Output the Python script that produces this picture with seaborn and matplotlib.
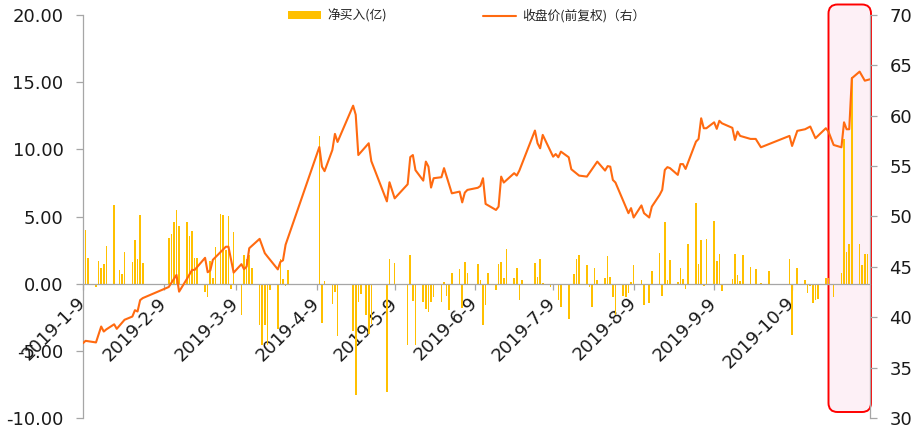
import pandas as pd
import seaborn as sns
import matplotlib.pyplot as plt
import matplotlib.dates as mdates
from matplotlib.patches import FancyBboxPatch, Patch
from matplotlib.lines import Line2D
from matplotlib.ticker import FormatStrFormatter

# net buy (100m), one bar per day
flow_days = [
    "1-9", "1-10", "1-11", "1-14", "1-15", "1-16", "1-17", "1-18", "1-21", "1-23",
    "1-24", "1-25", "1-28", "1-29", "1-30", "1-31", "2-1", "2-11", "2-12", "2-13",
    "2-14", "2-15", "2-18", "2-19", "2-20", "2-21", "2-22", "2-25", "2-26", "2-27",
    "2-28", "3-1", "3-3", "3-4", "3-5", "3-6", "3-7", "3-8", "3-11", "3-12",
    "3-13", "3-14", "3-15", "3-18", "3-19", "3-20", "3-21", "3-22", "3-25", "3-26",
    "3-27", "3-28", "3-29", "4-10", "4-11", "4-12", "4-15", "4-16", "4-17", "4-23",
    "4-24", "4-25", "4-26", "4-28", "4-29", "4-30", "5-6", "5-7", "5-9", "5-14",
    "5-15", "5-16", "5-17", "5-20", "5-21", "5-22", "5-23", "5-24", "5-27", "5-28",
    "5-29", "5-30", "5-31", "6-3", "6-4", "6-5", "6-6", "6-10", "6-11", "6-12",
    "6-13", "6-14", "6-17", "6-18", "6-19", "6-20", "6-21", "6-24", "6-25", "6-26",
    "6-27", "7-2", "7-3", "7-4", "7-5", "7-8", "7-11", "7-12", "7-15", "7-17",
    "7-18", "7-19", "7-22", "7-23", "7-24", "7-25", "7-26", "7-29", "7-30", "7-31",
    "8-1", "8-2", "8-5", "8-6", "8-7", "8-8", "8-9", "8-12", "8-13", "8-14",
    "8-15", "8-16", "8-19", "8-20", "8-21", "8-22", "8-23", "8-26", "8-27", "8-28",
    "8-29", "8-30", "9-2", "9-3", "9-4", "9-5", "9-6", "9-9", "9-10", "9-11",
    "9-12", "9-16", "9-17", "9-18", "9-19", "9-20", "9-23", "9-25", "9-27", "9-30",
    "10-8", "10-9", "10-11", "10-14", "10-15", "10-16", "10-17", "10-18", "10-19", "10-22",
    "10-23", "10-25", "10-28", "10-29", "10-30", "10-31", "11-1", "11-4", "11-5", "11-6",
    "11-7",
]
flow_values = [
    8.6, 3.97, 1.94, -0.25, 1.69, 1.19, 1.49, 2.8, 5.88, 0.99,
    0.7, 2.36, 1.61, 3.23, 1.81, 5.09, 1.56, 3.43, 3.67, 4.59,
    5.51, 4.27, 4.59, 3.55, 3.9, 1.91, 1.91, -0.62, -0.99, 1.66,
    0.45, 2.73, 5.21, 5.14, 2.48, 5.04, -0.37, 3.85, -2.36, 2.16,
    1.86, 2.16, 1.2, -3.1, -4.54, -3.1, -4.54, -0.5, -3.35, 1.86,
    0.37, -0.17, 1.04, 11.0, -2.9, 0.2, -1.54, -0.6, -3.9, -3.55,
    -8.3, -1.37, -0.74, -2.3, -3.72, -2.98, -8.06, 1.81, 1.56, -4.59,
    2.16, -1.32, -4.59, -1.37, -1.86, -2.11, -1.37, -0.99, -1.37, 0.12,
    -0.92, -1.99, 0.79, 1.12, -1.8, 1.61, 0.79, 1.49, 0.3, -3.05,
    -1.61, 0.82, -0.5, 1.49, 1.61, 0.45, 2.6, 0.42, 1.17, -1.24,
    0.3, 1.56, 0.5, 1.86, 0.05, -0.25, -1.24, -1.7, -2.6, 0.74,
    1.86, 2.16, 1.36, -0.25, -1.7, 1.17, 0.3, 0.45, 2.08, 0.5,
    -0.99, -2.3, -0.9, -1.0, -0.67, 0.12, 1.42, 0.28, -1.61, -0.12,
    -1.44, 0.92, 2.28, -0.92, 4.59, 0.25, 1.74, 0.1, 1.17, 0.33,
    -0.42, 2.98, 6.0, 1.49, 3.23, -0.2, 3.3, 4.64, 1.69, 2.18,
    -0.55, 0.37, 2.23, 0.67, 0.17, 2.16, 1.24, 1.12, 0.07, 0.97,
    1.82, -3.85, 1.19, 0.3, -0.7, -0.2, -1.41, -1.24, -1.12, 0.42,
    0.42, -0.99, 0.82, 10.8, 2.38, 2.92, 15.4, 2.92, 1.41, 2.24,
    2.22,
]

# close price (forward adjusted), right axis
close_days = [
    "1-9", "1-10", "1-14", "1-16", "1-17", "1-18", "1-21", "1-22", "1-25", "1-28",
    "1-29", "1-30", "1-31", "2-1", "2-11", "2-14", "2-15", "2-18", "2-20", "2-21",
    "2-25", "2-26", "2-27", "2-28", "3-5", "3-6", "3-8", "3-11", "3-12", "3-13",
    "3-14", "3-18", "3-20", "3-21", "3-25", "3-26", "3-27", "3-28", "4-10", "4-11",
    "4-12", "4-15", "4-16", "4-17", "4-23", "4-24", "4-25", "4-29", "4-30", "5-6",
    "5-7", "5-9", "5-14", "5-15", "5-16", "5-17", "5-20", "5-21", "5-22", "5-23",
    "5-24", "5-27", "5-28", "5-31", "6-3", "6-4", "6-5", "6-6", "6-10", "6-11",
    "6-12", "6-13", "6-17", "6-18", "6-19", "6-20", "6-24", "6-25", "6-26", "7-2",
    "7-3", "7-4", "7-5", "7-9", "7-10", "7-11", "7-12", "7-15", "7-16", "7-19",
    "7-22", "7-26", "7-29", "7-30", "7-31", "8-1", "8-2", "8-7", "8-8", "8-9",
    "8-12", "8-13", "8-15", "8-16", "8-19", "8-20", "8-21", "8-22", "8-23", "8-26",
    "8-27", "8-28", "8-29", "9-2", "9-3", "9-4", "9-5", "9-6", "9-9", "9-10",
    "9-11", "9-12", "9-16", "9-17", "9-18", "9-19", "9-23", "9-25", "9-27", "10-8",
    "10-9", "10-11", "10-14", "10-16", "10-18", "10-22", "10-23", "10-25", "10-28", "10-29",
    "10-30", "10-31", "11-1", "11-4", "11-6", "11-8",
]
close_values = [
    37.43, 37.66, 37.5, 39.08, 38.58, 38.8, 39.3, 38.85, 39.75, 40.07,
    40.7, 40.57, 41.7, 41.9, 43.0, 44.2, 42.54, 43.8, 44.7, 44.7,
    45.9, 44.47, 44.64, 45.7, 47.0, 47.0, 44.43, 45.27, 44.77, 45.03,
    46.85, 47.78, 46.36, 46.03, 44.75, 45.5, 45.65, 47.2, 56.9, 54.95,
    54.5, 56.6, 58.2, 57.4, 61.0, 60.1, 56.1, 57.27, 55.5, 51.5,
    53.4, 51.8, 53.2, 55.9, 56.1, 54.6, 53.56, 55.45, 54.95, 52.87,
    53.8, 53.9, 54.8, 52.3, 52.47, 51.4, 52.37, 52.64, 52.85, 53.03,
    53.8, 51.25, 50.65, 50.98, 53.96, 53.37, 54.3, 54.06, 54.56, 58.53,
    57.27, 56.77, 58.1, 55.94, 56.2, 55.88, 56.44, 55.88, 54.69, 54.06,
    53.96, 55.45, 54.56, 55.0, 54.95, 53.63, 53.37, 50.33, 50.83, 49.9,
    51.1, 50.33, 49.9, 50.98, 52.14, 52.64, 54.62, 54.9, 54.8, 54.13,
    55.2, 55.2, 54.72, 57.43, 57.7, 59.75, 58.76, 58.76, 59.35, 58.7,
    59.5, 59.25, 58.8, 57.6, 58.43, 58.0, 57.7, 57.7, 56.87, 58.0,
    57.0, 58.5, 58.66, 58.93, 57.77, 58.76, 58.43, 57.1, 56.87, 59.35,
    58.66, 58.66, 63.72, 64.38, 63.48, 63.62,
]

tick_days = ["1-9", "2-9", "3-9", "4-9", "5-9", "6-9", "7-9", "8-9", "9-9", "10-9"]
x_range = ["1-9", "11-8"]

bar_color = "#FFC000"
line_color = "#FF6A10"
axis_color = "#A6A6A6"


def to_num(days):
    return mdates.date2num(pd.to_datetime(["2019-" + d for d in days]))


sns.set_style("ticks")
plt.rcParams["font.family"] = ["DejaVu Sans", "Noto Sans CJK SC"]

fig = plt.figure(figsize=(9.2, 4.32), dpi=100)
ax = fig.add_axes([83 / 920, 14 / 432, 787 / 920, 403 / 432])
ax.set_facecolor("none")

sns.barplot(x=to_num(flow_days), y=flow_values, native_scale=True, width=0.62,
            color=bar_color, saturation=1, errorbar=None, linewidth=0, ax=ax)

ax2 = ax.twinx()
ax2.set_facecolor("none")
sns.lineplot(x=to_num(close_days), y=close_values, color=line_color,
             linewidth=1.5, estimator=None, ax=ax2)

xr = to_num(x_range)
ax.set_xlim(xr[0], xr[1])
ax.set_ylim(-10, 20)
ax.set_yticks(range(-10, 21, 5))
ax.yaxis.set_major_formatter(FormatStrFormatter("%.2f"))
ax2.set_ylim(30, 70)
ax2.set_yticks(range(30, 71, 5))

ax.set_xlabel("")
ax.set_ylabel("")
ax2.set_ylabel("")
ax2.xaxis.set_visible(False)

ax.spines["bottom"].set_position(("data", 0))
for s in ["top", "right"]:
    ax.spines[s].set_visible(False)
for s in ["top", "left", "bottom"]:
    ax2.spines[s].set_visible(False)
for a in [ax, ax2]:
    for s in a.spines.values():
        s.set_color(axis_color)
        s.set_linewidth(0.9)

ax.tick_params(axis="y", length=5, width=0.9, color=axis_color, labelsize=13,
               pad=9, labelcolor="#1a1a1a")
ax.tick_params(axis="x", length=4, width=0.9, color=axis_color, labelsize=13,
               pad=8, labelcolor="#1a1a1a")
ax2.tick_params(axis="y", length=5, width=0.9, color=axis_color, labelsize=13,
                pad=9, labelcolor="#1a1a1a")

ticks = pd.to_datetime(["2019-" + d for d in tick_days])
ax.set_xticks(to_num(tick_days))
ax.set_xticklabels([f"{t.year}-{t.month}-{t.day}" for t in ticks])
for lab in ax.get_xticklabels():
    lab.set_rotation(45)
    lab.set_ha("right")
    lab.set_va("center")
    lab.set_rotation_mode("anchor")

# highlight box around the last days
box = FancyBboxPatch((8.285, 0.20), 0.425, 4.075,
                     boxstyle="round,pad=0,rounding_size=0.09",
                     transform=fig.dpi_scale_trans, facecolor="#FDF0F6",
                     edgecolor="#FF0000", linewidth=1.4, zorder=-1)
fig.add_artist(box)

handles = [Patch(facecolor=bar_color, edgecolor="none"),
           Line2D([], [], color=line_color, linewidth=1.5)]
fig.legend(handles, ["净买入(亿)", "收盘价(前复权)（右）"], loc="center",
           bbox_to_anchor=(467 / 920, 1 - 16 / 432), ncol=2, frameon=False,
           prop={"family": ["Noto Sans CJK SC"], "size": 9.2},
           handlelength=2.6, handleheight=0.55, handletextpad=0.5,
           columnspacing=7.5)

fig.savefig("out.png", dpi=100)
